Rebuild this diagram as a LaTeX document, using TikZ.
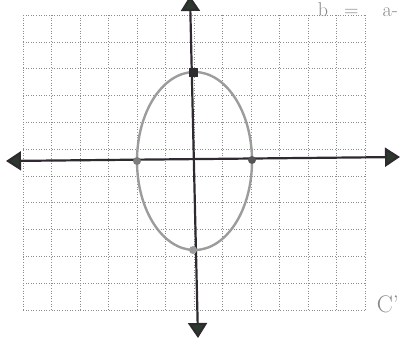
\documentclass[tikz,border=0pt]{standalone}
\usetikzlibrary{arrows.meta}
\definecolor{ink}{HTML}{2E2A30}
\definecolor{tipink}{HTML}{2C3A2E}
\definecolor{pencil}{HTML}{9C9C9C}
\definecolor{gridgray}{HTML}{8C8C8C}
\definecolor{scrawl}{HTML}{8A8A8A}

\begin{document}
\begin{tikzpicture}[
  x=1pt, y=-1pt,
  gridline/.style={draw=gridgray, line width=0.6pt, dotted},
  axis/.style={draw=ink, line width=2.2pt,
               {Triangle[length=15pt, width=19pt, fill=tipink]}-{Triangle[length=15pt, width=19pt, fill=tipink]}},
  curve/.style={draw=pencil, line width=2.4pt},
  dot/.style={circle, fill=#1, inner sep=0pt, minimum size=8pt},
  sqdot/.style={rectangle, fill=ink, inner sep=0pt, minimum size=9pt},
  hand/.style={text=scrawl, inner sep=0pt},
]
\useasboundingbox (0,0) rectangle (401,341);

% ---- graph paper --------------------------------------------------------------
\foreach \i in {0,...,12}
  \draw[gridline] (23+28.5*\i,15) -- (23+28.5*\i,310);
\foreach \j in {0,...,11}
  \draw[gridline] (23,15+26.8*\j) -- (365,15+26.8*\j);

% ---- the two axes -------------------------------------------------------------
\coordinate (xl) at (6,161);
\coordinate (xr) at (400,157);
\coordinate (yt) at (190,-4);
\coordinate (yb) at (198,338);

\draw[axis] (xl) -- (xr);
\draw[axis] (yt) -- (yb);

% ---- the ellipse and its vertices ---------------------------------------------
\draw[curve] (194.5,161) ellipse [x radius=57.5, y radius=89];

\node[sqdot] (top)   at (193,72)  {};
\node[dot=pencil!80!black] (left)  at (137,161) {};
\node[dot=ink!80]          (right) at (252,160) {};
\node[dot=pencil]          (bot)   at (193,250) {};

% ---- scribbles at the edges ---------------------------------------------------
\node[hand, anchor=base east, font=\fontsize{20}{20}\selectfont] (eqn) at (398,16)
  {b\hspace{16pt}=\hspace{24pt}a-};
\node[hand, anchor=base east, font=\fontsize{24}{24}\selectfont] (cprime) at (399,312) {C'};

\end{tikzpicture}
\end{document}
